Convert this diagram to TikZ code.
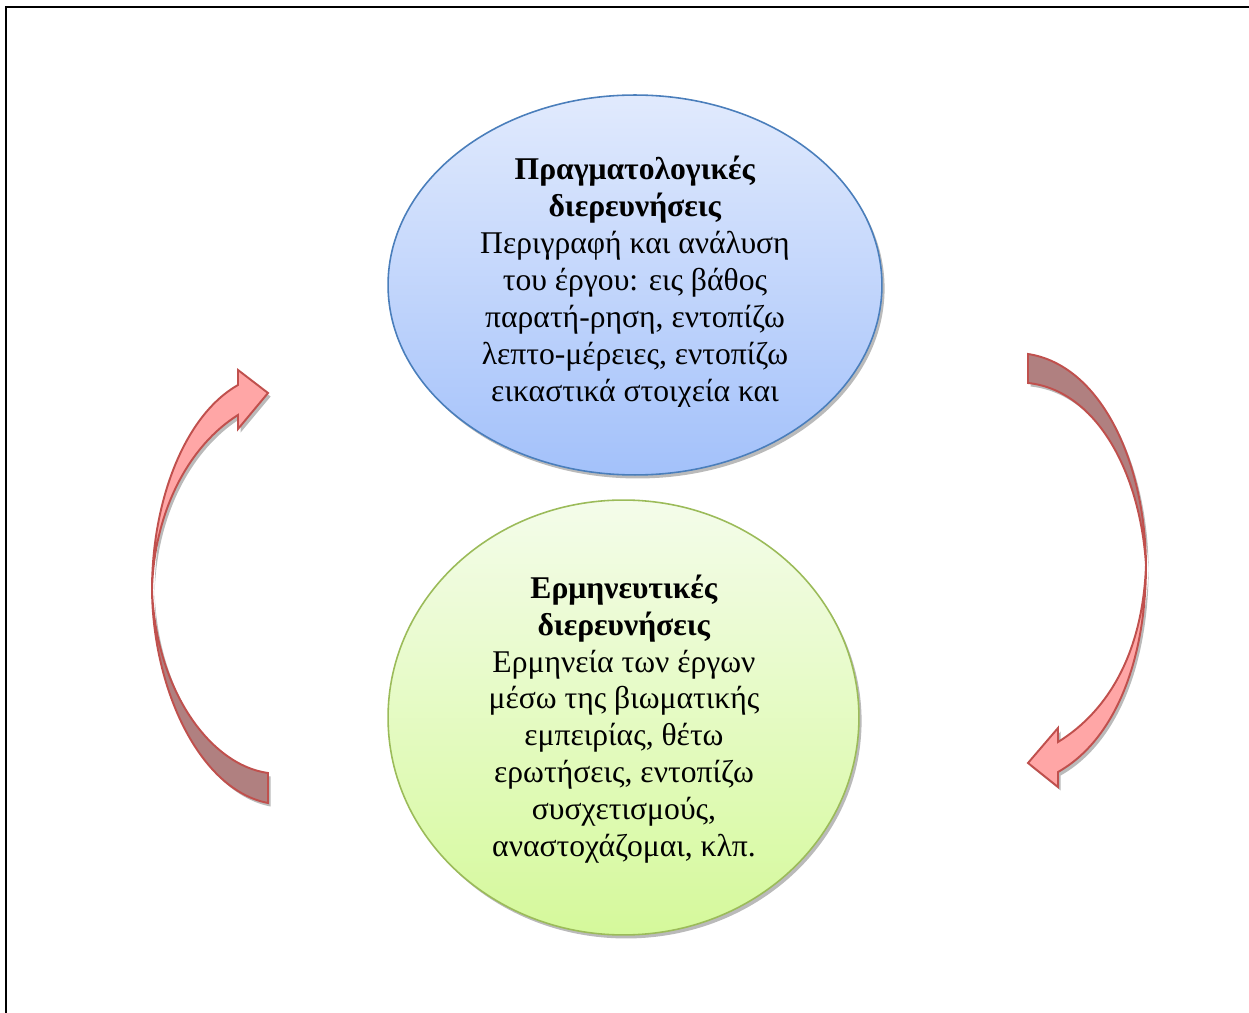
\documentclass[tikz,border=0pt]{standalone}
\usepackage{fontspec}
\setmainfont{Liberation Serif}
\usepackage{xcolor}
\usepackage{tikz}
\usetikzlibrary{shapes.geometric, shadows}

\definecolor{bluetop}{RGB}{225,234,253}
\definecolor{bluebot}{RGB}{163,193,250}
\definecolor{blueline}{RGB}{74,126,187}
\definecolor{greentop}{RGB}{244,252,234}
\definecolor{greenbot}{RGB}{213,249,155}
\definecolor{greenline}{RGB}{155,187,89}
\definecolor{arrowlight}{RGB}{255,166,166}
\definecolor{arrowdark}{RGB}{176,128,128}
\definecolor{arrowline}{RGB}{192,80,77}

\begin{document}
\begin{tikzpicture}[
    x=0.02cm, y=-0.02cm,
    font=\fontsize{18}{21}\selectfont,
    softshadow/.style={drop shadow={shadow xshift=1.5pt, shadow yshift=-2pt, fill=black!45, opacity=0.6}},
    bubble/.style={ellipse, inner sep=0pt, outer sep=0pt, line width=0.9pt, softshadow},
    bubbletext/.style={align=center, inner sep=0pt},
    bendarrow/.style={draw=arrowline, line width=1.1pt, line join=miter, softshadow}
]

\useasboundingbox (0,0) rectangle (1249,1013);

% frame
\draw[line width=1.2pt] (6,1013) -- (6,7) -- (1249,7);

% =========================================================
% TOP: factual investigations
% =========================================================
\node[bubble, draw=blueline, top color=bluetop, bottom color=bluebot,
      minimum width=9.88cm, minimum height=7.6cm] (prag) at (635,285) {};

\begin{scope}
\clip (390,100) rectangle (880,407);
\node[bubbletext] (pragtext) at (635,282) {%
    \textbf{Πραγματολογικές}\\
    \textbf{διερευνήσεις}\\
    Περιγραφή και ανάλυση\\
    του έργου: εις βάθος\\
    παρατή-ρηση, εντοπίζω\\
    λεπτο-μέρειες, εντοπίζω\\
    εικαστικά στοιχεία και};
\end{scope}

% =========================================================
% BOTTOM: interpretive investigations
% =========================================================
\node[bubble, draw=greenline, top color=greentop, bottom color=greenbot,
      minimum width=9.42cm, minimum height=8.7cm] (herm) at (623.5,717.5) {};

\node[bubbletext] (hermtext) at (624,719) {%
    \textbf{Ερμηνευτικές}\\
    \textbf{διερευνήσεις}\\
    Ερμηνεία των έργων\\
    μέσω της βιωματικής\\
    εμπειρίας, θέτω\\
    ερωτήσεις, εντοπίζω\\
    συσχετισμούς,\\
    αναστοχάζομαι, κλπ.};

% =========================================================
% LEFT: curved arrow going up
% =========================================================
% back side (tail)
\filldraw[bendarrow, fill=arrowdark]
    (152,590)
    .. controls (153,690) and (200,790) .. (268,803)
    -- (268,773)
    .. controls (210,765) and (156,690) .. (152,590) -- cycle;

% front side (head)
\filldraw[bendarrow, fill=arrowlight]
    (238,385) -- (238,370) -- (268,393) -- (238,429) -- (238,415)
    .. controls (190,445) and (154,510) .. (152,590)
    .. controls (152,500) and (185,415) .. (238,385) -- cycle;

% =========================================================
% RIGHT: curved arrow going down
% =========================================================
% back side (tail)
\filldraw[bendarrow, fill=arrowdark]
    (1028,354)
    .. controls (1100,365) and (1145,460) .. (1146,565)
    .. controls (1140,470) and (1095,390) .. (1028,383) -- cycle;

% front side (head)
\filldraw[bendarrow, fill=arrowlight]
    (1146,565)
    .. controls (1146,660) and (1115,740) .. (1058,772)
    -- (1058,787) -- (1028,763) -- (1058,728) -- (1058,742)
    .. controls (1110,710) and (1143,650) .. (1146,565) -- cycle;

\end{tikzpicture}
\end{document}
